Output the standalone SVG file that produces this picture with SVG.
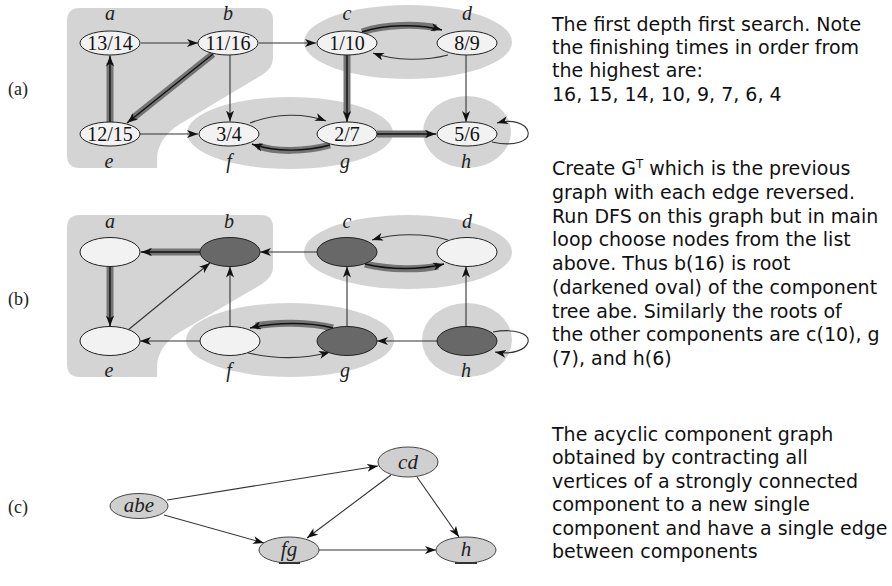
<svg xmlns="http://www.w3.org/2000/svg" width="892" height="586" viewBox="0 0 892 586">
<defs>
<marker id="ah" markerWidth="11" markerHeight="8" refX="11" refY="4" orient="auto" markerUnits="userSpaceOnUse">
<path d="M0,0 L11,4 L0,8 L3,4 Z" fill="#111"/>
</marker>
<style>
.region{fill:#d4d4d4;stroke:none}
.nl{fill:#f2f2f2;stroke:#222;stroke-width:1}
.nd{fill:#686868;stroke:#222;stroke-width:1}
.nc{fill:#cfcfcf;stroke:#444;stroke-width:1}
.e{fill:none;stroke:#333;stroke-width:1.1;marker-end:url(#ah)}
.band{fill:none;stroke:#747474;stroke-width:7}
.core{fill:none;stroke:#111;stroke-width:1.4;marker-end:url(#ah)}
.num{font-family:"Liberation Serif",serif;font-size:20px;text-anchor:middle;fill:#111}
.lab{font-family:"Liberation Serif",serif;font-size:20px;font-style:italic;text-anchor:middle;fill:#222}
.part{font-family:"Liberation Serif",serif;font-size:18px;fill:#222}
.cl{font-family:"Liberation Serif",serif;font-size:21px;font-style:italic;text-anchor:middle;fill:#222}
.txt{font-family:"Comic Sans MS","DejaVu Sans",sans-serif;font-size:19px;fill:#111}
</style>
</defs>

<!-- part labels -->
<text class="part" x="8" y="95">(a)</text>
<text class="part" x="8" y="305">(b)</text>
<text class="part" x="8" y="513">(c)</text>

<!-- ===== (a) regions ===== -->
<g id="a-regions">
<path class="region" d="M80,8 H261 Q273,8 273,20 V58 Q273,68 262,75 L180,124 Q158,138 157,158 V168 H80 Q67,168 67,155 V21 Q67,8 80,8 Z"/>
<ellipse class="region" cx="408" cy="42" rx="104" ry="37"/>
<ellipse class="region" cx="290" cy="133" rx="103" ry="36"/>
<ellipse class="region" cx="467" cy="132" rx="44" ry="36"/>
</g>

<!-- ===== (a) connectors ===== -->
<g id="a-connectors">
<line class="e" x1="141" y1="43" x2="198" y2="43"/>
<line class="e" x1="259" y1="43" x2="316" y2="43"/>
<path class="band" d="M362,32 C385,24 420,24 436,28"/>
<path class="core" d="M362,32 C385,24 420,24 442,30"/>
<path class="e" d="M448,55 C425,61 395,61 373,53"/>
<line class="band" x1="213" y1="54" x2="133" y2="118"/>
<line class="core" x1="213" y1="54" x2="127" y2="123"/>
<line class="band" x1="110" y1="122" x2="110" y2="63"/>
<line class="core" x1="110" y1="122" x2="110" y2="55.5"/>
<line class="e" x1="230" y1="55" x2="230" y2="121.5"/>
<line class="e" x1="140" y1="134" x2="198" y2="134"/>
<path class="e" d="M250,123 C275,113 305,113 326,121"/>
<path class="band" d="M330,145 C305,152 275,152 258,146"/>
<path class="core" d="M330,145 C305,152 275,152 252,144"/>
<line class="band" x1="347" y1="55" x2="347" y2="114"/>
<line class="core" x1="347" y1="55" x2="347" y2="122"/>
<line class="e" x1="466" y1="55" x2="466" y2="122"/>
<line class="band" x1="377" y1="134" x2="428" y2="134"/>
<line class="core" x1="377" y1="134" x2="436" y2="134"/>
<path class="e" d="M492,142 C515,147 530,141 528,132 C526,123 512,119 497,123"/>
</g>

<!-- ===== (a) nodes ===== -->
<g id="a-node-a"><ellipse class="nl" cx="110" cy="43" rx="30" ry="12"/><text class="num" x="110" y="50">13/14</text><text class="lab" x="110" y="20">a</text></g>
<g id="a-node-b"><ellipse class="nl" cx="228" cy="43" rx="30" ry="12"/><text class="num" x="228" y="50">11/16</text><text class="lab" x="228" y="20">b</text></g>
<g id="a-node-c"><ellipse class="nl" cx="347" cy="43" rx="30" ry="12"/><text class="num" x="347" y="50">1/10</text><text class="lab" x="347" y="20">c</text></g>
<g id="a-node-d"><ellipse class="nl" cx="467" cy="43" rx="30" ry="12"/><text class="num" x="467" y="50">8/9</text><text class="lab" x="467" y="20">d</text></g>
<g id="a-node-e"><ellipse class="nl" cx="110" cy="134" rx="30" ry="12"/><text class="num" x="110" y="141">12/15</text><text class="lab" x="109" y="168">e</text></g>
<g id="a-node-f"><ellipse class="nl" cx="229" cy="134" rx="30" ry="12"/><text class="num" x="229" y="141">3/4</text><text class="lab" x="229" y="168">f</text></g>
<g id="a-node-g"><ellipse class="nl" cx="347" cy="134" rx="30" ry="12"/><text class="num" x="347" y="141">2/7</text><text class="lab" x="345" y="168">g</text></g>
<g id="a-node-h"><ellipse class="nl" cx="467" cy="134" rx="30" ry="12"/><text class="num" x="467" y="141">5/6</text><text class="lab" x="466" y="168">h</text></g>

<!-- ===== (b) regions ===== -->
<g id="b-regions">
<path class="region" d="M80,215 H261 Q273,215 273,227 V267 Q273,277 262,284 L180,332 Q158,346 157,366 V377 H80 Q67,377 67,364 V228 Q67,215 80,215 Z"/>
<ellipse class="region" cx="408" cy="252" rx="104" ry="37"/>
<ellipse class="region" cx="290" cy="340" rx="104" ry="37"/>
<ellipse class="region" cx="467" cy="340" rx="45" ry="37"/>
</g>

<!-- ===== (b) connectors ===== -->
<g id="b-connectors">
<line class="band" x1="200" y1="252" x2="149" y2="252"/>
<line class="core" x1="200" y1="252" x2="141" y2="252"/>
<line class="band" x1="110" y1="266.5" x2="110" y2="318"/>
<line class="core" x1="110" y1="266.5" x2="110" y2="326.5"/>
<line class="e" x1="128" y1="330" x2="210" y2="263"/>
<line class="e" x1="230" y1="326.5" x2="230" y2="266.5"/>
<line class="e" x1="317" y1="252" x2="260" y2="252"/>
<path class="e" d="M448,240 C425,233 395,233 372,240"/>
<path class="band" d="M365,264 C390,270 420,270 438,266"/>
<path class="core" d="M365,264 C390,270 420,270 444,264"/>
<line class="e" x1="347" y1="326.5" x2="347" y2="266.5"/>
<line class="e" x1="466" y1="326.5" x2="466" y2="266.5"/>
<line class="e" x1="200" y1="341" x2="140" y2="341"/>
<path class="band" d="M333,328 C310,322 275,322 256,326"/>
<path class="core" d="M333,328 C310,322 275,322 250,328"/>
<path class="e" d="M248,353 C275,359 305,359 330,352"/>
<line class="e" x1="437" y1="341" x2="377" y2="341"/>
<path class="e" d="M493,332 C515,328 530,334 528,342 C526,350 512,355 495,352"/>
</g>

<!-- ===== (b) nodes ===== -->
<g id="b-node-a"><ellipse class="nl" cx="110" cy="252" rx="30" ry="14.5"/><text class="lab" x="110" y="228">a</text></g>
<g id="b-node-b"><ellipse class="nd" cx="230" cy="252" rx="30" ry="14.5"/><text class="lab" x="229" y="228">b</text></g>
<g id="b-node-c"><ellipse class="nd" cx="347" cy="252" rx="30" ry="14.5"/><text class="lab" x="347" y="228">c</text></g>
<g id="b-node-d"><ellipse class="nl" cx="467" cy="252" rx="30" ry="14.5"/><text class="lab" x="467" y="228">d</text></g>
<g id="b-node-e"><ellipse class="nl" cx="110" cy="341" rx="30" ry="14.5"/><text class="lab" x="109" y="377">e</text></g>
<g id="b-node-f"><ellipse class="nl" cx="230" cy="341" rx="30" ry="14.5"/><text class="lab" x="229" y="377">f</text></g>
<g id="b-node-g"><ellipse class="nd" cx="347" cy="341" rx="30" ry="14.5"/><text class="lab" x="345" y="377">g</text></g>
<g id="b-node-h"><ellipse class="nd" cx="467" cy="341" rx="30" ry="14.5"/><text class="lab" x="466" y="377">h</text></g>

<!-- ===== (c) connectors ===== -->
<g id="c-connectors">
<line class="e" x1="167" y1="500" x2="378" y2="466"/>
<line class="e" x1="164" y1="515" x2="264" y2="543"/>
<line class="e" x1="391" y1="475" x2="307" y2="538"/>
<line class="e" x1="417" y1="477" x2="459" y2="537"/>
<line class="e" x1="319" y1="550" x2="436" y2="550"/>
</g>

<!-- ===== (c) nodes ===== -->
<g id="c-node-abe"><ellipse class="nc" cx="139" cy="506" rx="29" ry="12.5"/><text class="cl" x="139" y="512">abe</text></g>
<g id="c-node-cd"><ellipse class="nc" cx="408" cy="462" rx="30" ry="15"/><text class="cl" x="408" y="469">cd</text></g>
<g id="c-node-fg"><ellipse class="nc" cx="289" cy="550" rx="30" ry="13"/><text class="cl" x="289" y="556">fg</text><line x1="279" y1="563" x2="300" y2="563" stroke="#333" stroke-width="2"/></g>
<g id="c-node-h"><ellipse class="nc" cx="466" cy="550" rx="30" ry="13"/><text class="cl" x="466" y="556">h</text><line x1="455" y1="563" x2="477" y2="563" stroke="#333" stroke-width="2"/></g>

<!-- ===== right-hand text ===== -->
<g id="text-1" class="txt">
<text x="552" y="30.5">The first depth first search. Note</text>
<text x="552" y="54">the finishing times in order from</text>
<text x="552" y="77">the highest are:</text>
<text x="552" y="100.5">16, 15, 14, 10, 9, 7, 6, 4</text>
</g>
<g id="text-2" class="txt">
<text x="552" y="175">Create G<tspan font-size="12" dy="-7">T</tspan><tspan dy="7"> which is the previous</tspan></text>
<text x="552" y="198.7">graph with each edge reversed.</text>
<text x="552" y="222.5">Run DFS on this graph but in main</text>
<text x="552" y="246.2">loop choose nodes from the list</text>
<text x="552" y="270">above. Thus b(16) is root</text>
<text x="552" y="293.7">(darkened oval) of the component</text>
<text x="552" y="317.5">tree abe. Similarly the roots of</text>
<text x="552" y="341.2">the other components are c(10), g</text>
<text x="552" y="365">(7), and h(6)</text>
</g>
<g id="text-3" class="txt">
<text x="552" y="441">The acyclic component graph</text>
<text x="552" y="464.4">obtained by contracting all</text>
<text x="552" y="487.8">vertices of a strongly connected</text>
<text x="552" y="511.2">component to a new single</text>
<text x="552" y="534.6">component and have a single edge</text>
<text x="552" y="558">between components</text>
</g>
</svg>
